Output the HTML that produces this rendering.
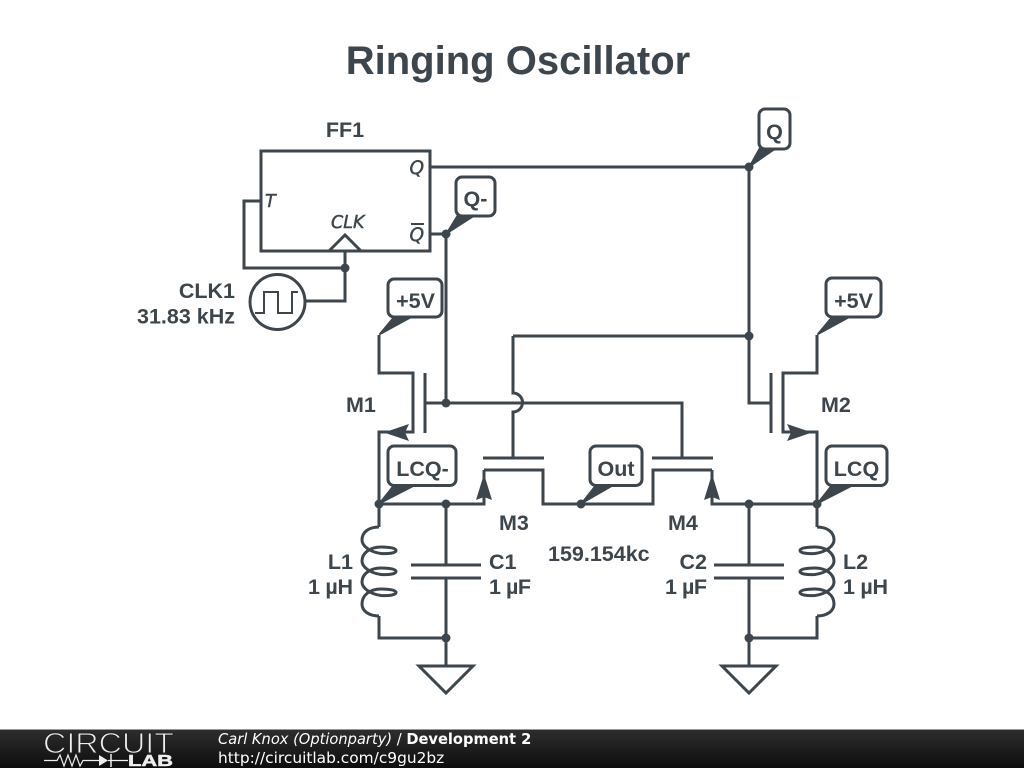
<!DOCTYPE html>
<html><head><meta charset="utf-8"><style>
html,body{margin:0;padding:0;background:#fff;width:1024px;height:768px;overflow:hidden}
svg{display:block}
.w{fill:none;stroke:#3c464c;stroke-width:3;stroke-linejoin:miter}
.b{fill:#fff;stroke:#3c464c;stroke-width:3}
.f{fill:#3c464c;stroke:none}
.tail{fill:#3c464c;stroke:#3c464c;stroke-width:2;stroke-linejoin:round}
.t{font-family:"Liberation Sans",sans-serif;font-weight:bold;font-size:21.5px;fill:#3c464c}
.i{font-family:"DejaVu Sans",sans-serif;font-style:italic;font-size:17.500px;fill:#3c464c;stroke:#3c464c;stroke-width:0.45}
.d{font-family:"DejaVu Sans",sans-serif;font-size:14.65px;fill:#fff}
</style></head><body>
<svg width="1024" height="768" viewBox="0 0 1024 768" xmlns="http://www.w3.org/2000/svg">
<defs><linearGradient id="g" x1="0" y1="0" x2="0" y2="1"><stop offset="0" stop-color="#2e2e2e"/><stop offset="1" stop-color="#0d0d0d"/></linearGradient></defs>
<rect width="1024" height="768" fill="#fff"/>
<text x="518" y="74" text-anchor="middle" font-family="Liberation Sans" font-weight="bold" font-size="40" fill="#3c464c">Ringing Oscillator</text>

<!-- Flip flop -->
<rect x="261" y="151" width="169" height="100" class="w"/>
<path class="w" d="M261 201H244V268H345M329 251L345 235L361 251M345 251V301H306M430 167H749V403H771M430 234H446V403"/>
<circle cx="277.500" cy="302" r="27.500" class="w"/>
<path class="w" style="stroke-width:2" d="M255 313H264V292H278V313H292V292H298"/>
<text class="i" x="265" y="207">T</text>
<text class="i" x="409.500" y="174" style="font-size:18.500px">Q</text>
<text class="i" x="409.500" y="241" style="font-size:18.500px">Q</text>
<path class="w" style="stroke-width:2" d="M411 224H424"/>
<text class="i" x="331" y="228">CLK</text>

<!-- M1 -->
<path class="w" d="M379 335V373H413V432H379V527M379 616V638H446M425 373V433M425 403H682V458M513 336V393A9.500 9.500 0 0 1 513 412V458M513 336H749"/>
<path class="f" d="M384 432.500L409 424L405 432.500L409 441Z"/>
<!-- M2 -->
<path class="w" d="M817 335V373H783V432H817V527M817 616V638H749M771 373V433"/>
<path class="f" d="M812 432.500L787 424L791 432.500L787 441Z"/>
<!-- M3 -->
<path class="w" d="M483 458H544M484 470H543V504H581M484 470V504H379"/>
<path class="f" d="M484 474L492 500L484 497L476 500Z"/>
<!-- M4 -->
<path class="w" d="M652 458H713M712 470H653V504H581M712 470V504H817"/>
<path class="f" d="M712 474L720 500L712 497L704 500Z"/>

<!-- Inductors -->
<path class="w" d="M379 527C369 527 362 532 362 540C362 546 370 552 381 553.500C389 554 396 553 396 550.500C396 548 389 547 381 547C370 547 362 553 362 561C362 567 370 573 381 574.500C389 575 396 574 396 571.500C396 569 389 568 381 568C370 568 362 574 362 582C362 588 370 594 381 595.500C389 596 396 595 396 592.500C396 590 389 589 381 589C370 589 362 595 362 604C362 611 369 616 379 616"/>
<path class="w" d="M817 527C827 527 834 532 834 540C834 546 826 552 815 553.500C807 554 800 553 800 550.500C800 548 807 547 815 547C826 547 834 553 834 561C834 567 826 573 815 574.500C807 575 800 574 800 571.500C800 569 807 568 815 568C826 568 834 574 834 582C834 588 826 594 815 595.500C807 596 800 595 800 592.500C800 590 807 589 815 589C826 589 834 595 834 604C834 611 827 616 817 616"/>
<!-- Caps & grounds -->
<path class="w" d="M446 504V565M411 565H481M411 578H481M446 578V666M419 666H473L446 693Z"/>
<path class="w" d="M749 504V565M714 565H784M714 578H784M749 578V666M722 666H776L749 693Z"/>

<!-- dots -->
<g class="f">
<circle cx="345" cy="268" r="4.500"/><circle cx="446" cy="234" r="4.500"/><circle cx="749" cy="167" r="4.500"/>
<circle cx="749" cy="336" r="4.500"/><circle cx="446" cy="403" r="4.500"/><circle cx="379" cy="504" r="4.500"/>
<circle cx="446" cy="504" r="4.500"/><circle cx="581" cy="504" r="4.500"/><circle cx="749" cy="504" r="4.500"/>
<circle cx="817" cy="504" r="4.500"/><circle cx="446" cy="638" r="4.500"/><circle cx="749" cy="638" r="4.500"/>
</g>

<!-- flags -->
<path class="tail" d="M447 233L458 215H475Z"/>
<path class="tail" d="M380 334L395 316H413Z"/>
<path class="tail" d="M750 166L760 148H776Z"/>
<path class="tail" d="M818 334L833 316H851Z"/>
<path class="tail" d="M380 503L395 484H417Z"/>
<path class="tail" d="M582 503L597 484H615Z"/>
<path class="tail" d="M818 503L833 484H855Z"/>
<rect x="456" y="177" width="39" height="39" rx="6" class="b"/>
<rect x="388" y="279" width="54" height="38" rx="6" class="b"/>
<rect x="759" y="109" width="31" height="40" rx="6" class="b"/>
<rect x="826" y="278" width="55" height="39" rx="6" class="b"/>
<rect x="388" y="446" width="68" height="39.500" rx="6" class="b"/>
<rect x="590" y="446" width="52" height="39.500" rx="6" class="b"/>
<rect x="826" y="446" width="61" height="39.500" rx="6" class="b"/>
<g class="t">
<text x="475.500" y="206" text-anchor="middle">Q-</text>
<text x="415.500" y="308" text-anchor="middle">+5V</text>
<text x="774.500" y="139" text-anchor="middle">Q</text>
<text x="853.500" y="308" text-anchor="middle">+5V</text>
<text x="422.500" y="476" text-anchor="middle">LCQ-</text>
<text x="616" y="476" text-anchor="middle">Out</text>
<text x="856.500" y="476" text-anchor="middle">LCQ</text>
<text x="345" y="137" text-anchor="middle">FF1</text>
<text x="235" y="298" text-anchor="end">CLK1</text>
<text x="235" y="323.500" text-anchor="end">31.83 kHz</text>
<text x="346" y="412">M1</text>
<text x="821" y="412">M2</text>
<text x="499" y="530">M3</text>
<text x="668" y="530">M4</text>
<text x="548" y="561">159.154kc</text>
<text x="353" y="569" text-anchor="end">L1</text>
<text x="353" y="594" text-anchor="end" textLength="45">1 µH</text>
<text x="489" y="569">C1</text>
<text x="489" y="594" textLength="42">1 µF</text>
<text x="707" y="569" text-anchor="end">C2</text>
<text x="707" y="594" text-anchor="end" textLength="42">1 µF</text>
<text x="843" y="569">L2</text>
<text x="843" y="594" textLength="45">1 µH</text>
</g>

<!-- footer -->
<rect x="0" y="729" width="1024" height="39" fill="url(#g)"/>
<rect x="0" y="729" width="1024" height="1" fill="#999"/>
<text x="43" y="753" font-family="Liberation Sans" font-size="29" fill="#eee" stroke="#222" stroke-width="1.050" textLength="131" lengthAdjust="spacingAndGlyphs">CIRCUIT</text>
<path d="M44 760.500H57L60 755L64 766L68 755L72 766L76 755L80 766L83 760.500H99M108 760.500H128" fill="none" stroke="#eee" stroke-width="1.200"/>
<path d="M99 755V766L108 760.500Z" fill="#eee"/>
<path d="M111 754V767" fill="none" stroke="#eee" stroke-width="1.500"/>
<text x="128" y="766" font-family="Liberation Sans" font-weight="bold" font-size="15.500" fill="#eee" stroke="#eee" stroke-width="0.5" textLength="45" lengthAdjust="spacingAndGlyphs">LAB</text>
<text class="d" x="218" y="744"><tspan font-style="italic">Carl Knox (Optionparty)</tspan> / <tspan font-weight="bold">Development 2</tspan></text>
<text class="d" x="218" y="763" style="font-size:15.400px">http://circuitlab.com/c9gu2bz</text>
</svg>
</body></html>
